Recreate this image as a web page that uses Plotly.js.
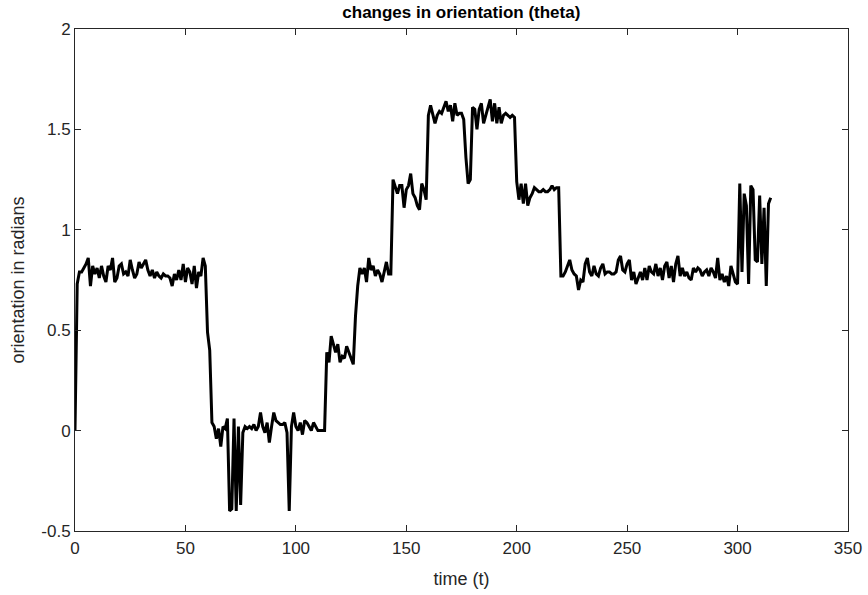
<!DOCTYPE html>
<html>
<head>
<meta charset="utf-8">
<script src="https://cdn.plot.ly/plotly-3.0.1.min.js"></script>
<style>
  html, body { margin: 0; padding: 0; background: #fff; }
  #chart { width: 868px; height: 595px; }
</style>
</head>
<body>
<div id="chart"></div>
<script>
// Orientation angle (theta, radians) sampled once per time step t = 0..315
const theta = [
  0.00, 0.73, 0.79, 0.79, 0.81, 0.83, 0.86, 0.72, 0.82, 0.78,
  0.81, 0.76, 0.82, 0.77, 0.74, 0.82, 0.80, 0.86, 0.74, 0.76,
  0.82, 0.83, 0.78, 0.79, 0.77, 0.85, 0.80, 0.76, 0.78, 0.84,
  0.81, 0.83, 0.85, 0.80, 0.77, 0.80, 0.76, 0.79, 0.77, 0.76,
  0.78, 0.77, 0.77, 0.76, 0.72, 0.78, 0.75, 0.80, 0.75, 0.83,
  0.74, 0.81, 0.79, 0.73, 0.82, 0.71, 0.79, 0.77, 0.86, 0.82,
  0.49, 0.40, 0.04, 0.02, -0.04, 0.01, -0.08, 0.02, 0.01, 0.06,
  -0.40, -0.39, 0.06, -0.40, 0.02, -0.37, -0.01, 0.02, 0.01, 0.02,
  0.01, 0.03, 0.00, 0.02, 0.09, 0.02, -0.01, 0.04, -0.06, 0.02,
  0.09, 0.05, 0.04, 0.03, 0.03, 0.04, -0.01, -0.40, 0.02, 0.09,
  0.02, 0.00, 0.04, -0.02, 0.05, 0.04, 0.02, 0.00, 0.04, 0.02,
  0.00, 0.00, 0.00, 0.00, 0.39, 0.34, 0.47, 0.43, 0.39, 0.43,
  0.34, 0.37, 0.36, 0.42, 0.39, 0.36, 0.33, 0.57, 0.72, 0.81,
  0.78, 0.81, 0.74, 0.86, 0.80, 0.82, 0.77, 0.80, 0.78, 0.74,
  0.80, 0.84, 0.78, 0.78, 1.25, 1.22, 1.18, 1.22, 1.22, 1.11,
  1.20, 1.22, 1.28, 1.18, 1.16, 1.12, 1.10, 1.23, 1.20, 1.15,
  1.57, 1.62, 1.58, 1.53, 1.57, 1.59, 1.58, 1.61, 1.64, 1.59,
  1.62, 1.54, 1.63, 1.57, 1.58, 1.58, 1.55, 1.36, 1.23, 1.25,
  1.61, 1.60, 1.50, 1.60, 1.63, 1.53, 1.57, 1.61, 1.65, 1.54,
  1.63, 1.53, 1.61, 1.53, 1.57, 1.58, 1.57, 1.56, 1.57, 1.56,
  1.24, 1.15, 1.23, 1.13, 1.23, 1.12, 1.16, 1.18, 1.21, 1.20,
  1.19, 1.19, 1.20, 1.19, 1.19, 1.20, 1.22, 1.20, 1.21, 1.21,
  0.77, 0.77, 0.79, 0.82, 0.85, 0.80, 0.78, 0.77, 0.70, 0.75,
  0.74, 0.83, 0.86, 0.79, 0.77, 0.82, 0.78, 0.77, 0.81, 0.83,
  0.78, 0.79, 0.79, 0.78, 0.78, 0.79, 0.85, 0.87, 0.80, 0.79,
  0.83, 0.85, 0.75, 0.79, 0.73, 0.76, 0.79, 0.75, 0.81, 0.75,
  0.82, 0.79, 0.78, 0.83, 0.77, 0.81, 0.75, 0.82, 0.84, 0.76,
  0.82, 0.74, 0.83, 0.87, 0.77, 0.81, 0.77, 0.79, 0.76, 0.75,
  0.81, 0.79, 0.81, 0.80, 0.77, 0.79, 0.80, 0.77, 0.81, 0.79,
  0.76, 0.86, 0.75, 0.78, 0.74, 0.77, 0.72, 0.82, 0.78, 0.74,
  0.73, 1.23, 0.79, 1.18, 1.12, 0.73, 1.22, 1.20, 0.85, 0.84,
  1.17, 0.83, 1.11, 0.72, 1.13, 1.16
];
const time = theta.map((_, i) => i);

const xTicks = [0, 50, 100, 150, 200, 250, 300, 350];
const yTicks = [-0.5, 0, 0.5, 1, 1.5, 2];
const yTickText = ['-0.5', '0', '0.5', '1', '1.5', '2'];

const font = 'Liberation Sans, Arial, sans-serif';

const axisBase = {
  showgrid: false,
  zeroline: false,
  showline: true,
  mirror: 'ticks',
  linecolor: '#262626',
  linewidth: 1,
  ticks: 'inside',
  ticklen: 6,
  tickwidth: 1,
  tickcolor: '#262626',
  tickfont: { family: font, size: 17, color: '#262626' }
};

const trace = {
  x: time,
  y: theta,
  type: 'scatter',
  mode: 'lines',
  line: { color: '#000000', width: 3 },
  hoverinfo: 'x+y'
};

const layout = {
  width: 868,
  height: 595,
  margin: { l: 75, r: 20, t: 29, b: 64 },
  paper_bgcolor: '#ffffff',
  plot_bgcolor: '#ffffff',
  showlegend: false,
  title: {
    text: '<b>changes in orientation (theta)</b>',
    font: { family: font, size: 17, color: '#000000' },
    x: 0.5315, xanchor: 'center',
    y: 0.98, yanchor: 'middle'
  },
  xaxis: Object.assign({}, axisBase, {
    range: [0, 350],
    tickvals: xTicks,
    ticktext: xTicks.map(String),
    ticklabelstandoff: 2,
    title: { text: 'time (t)', font: { family: font, size: 18, color: '#262626' }, standoff: 14 }
  }),
  yaxis: Object.assign({}, axisBase, {
    range: [-0.5, 2],
    tickvals: yTicks,
    ticktext: yTickText,
    title: { text: 'orientation in radians', font: { family: font, size: 18, color: '#262626' }, standoff: 12 }
  })
};

Plotly.newPlot('chart', [trace], layout, { displayModeBar: false, staticPlot: true });
</script>
</body>
</html>
